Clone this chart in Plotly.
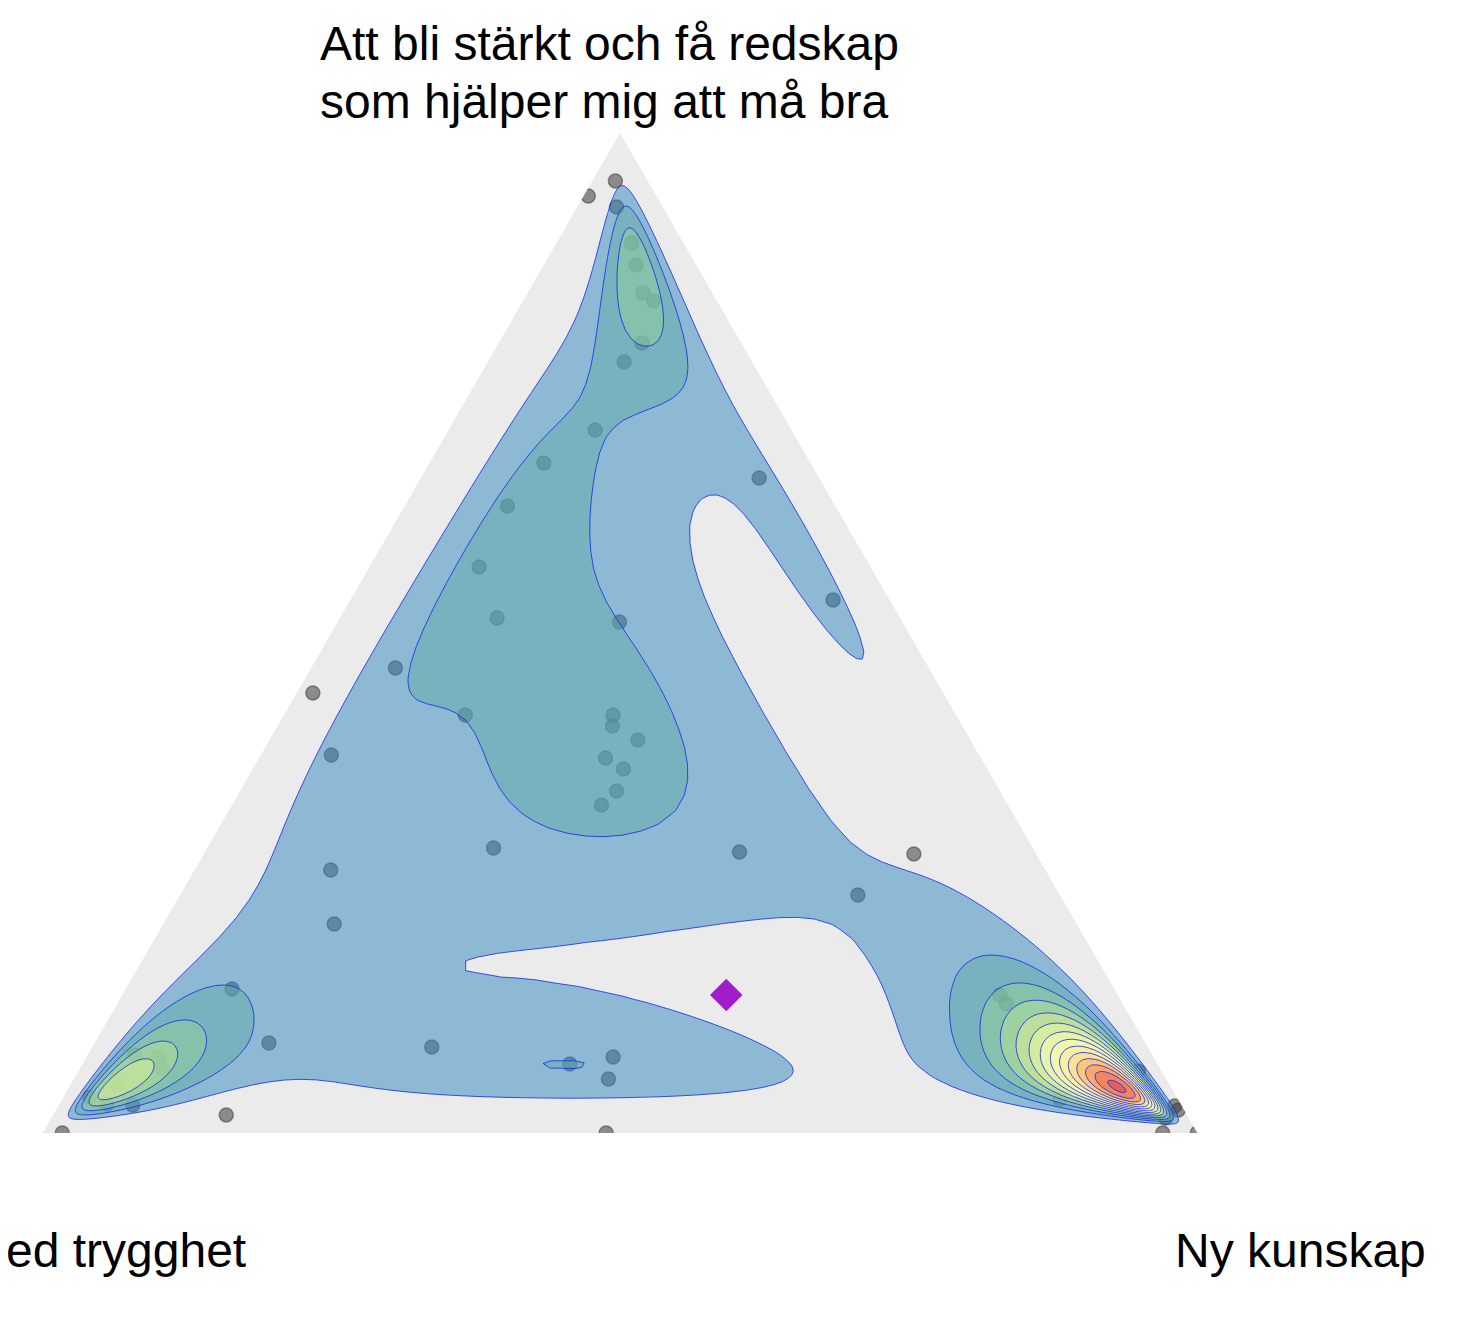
import numpy as np
import plotly.graph_objects as go

# ---------------- data (shares: top / left / right, and counts) ----------------
# visible responses first, then responses hidden under the dense clusters
TOP = [0.952, 0.937, 0.926, 0.832, 0.790, 0.771, 0.703, 0.670, 0.627, 0.566,
       0.515, 0.465, 0.440, 0.511, 0.655, 0.533, 0.418, 0.378, 0.418, 0.407,
       0.393, 0.375, 0.364, 0.342, 0.328, 0.285, 0.281, 0.279, 0.238, 0.263,
       0.209, 0.090, 0.086, 0.069, 0.076, 0.054, 0.018, 0.000, 0.000, 0.027,
       0.023, 0.000, 0.000, 0.129, 0.076, 0.028,
       0.046, 0.035, 0.061, 0.075, 0.028, 0.062, 0.015, 0.138, 0.034,
       0.048, 0.036, 0.064, 0.078, 0.029, 0.144,
       0.868, 0.840, 0.890]
LEFT = [0.028, 0.059, 0.040, 0.055, 0.086, 0.111, 0.170, 0.231, 0.284, 0.339,
        0.349, 0.462, 0.546, 0.245, 0.052, 0.049, 0.425, 0.561, 0.297, 0.303,
        0.288, 0.325, 0.315, 0.332, 0.352, 0.467, 0.256, 0.106, 0.175, 0.619,
        0.643, 0.759, 0.620, 0.509, 0.468, 0.483, 0.832, 0.983, 0.512, 0.006,
        0.005, 0.030, 0.000, 0.101, 0.862, 0.908,
        0.046, 0.026, 0.080, 0.046, 0.046, 0.020, 0.020, 0.102, 0.102,
        0.911, 0.941, 0.864, 0.881, 0.930, 0.764,
        0.052, 0.060, 0.045]
RIGHT = [0.020, 0.004, 0.034, 0.113, 0.124, 0.118, 0.127, 0.099, 0.089, 0.095,
         0.136, 0.073, 0.014, 0.244, 0.293, 0.418, 0.157, 0.061, 0.285, 0.290,
         0.319, 0.300, 0.321, 0.326, 0.320, 0.248, 0.463, 0.615, 0.587, 0.118,
         0.148, 0.151, 0.294, 0.422, 0.456, 0.463, 0.150, 0.017, 0.488, 0.967,
         0.972, 0.970, 1.000, 0.770, 0.062, 0.064,
         0.908, 0.939, 0.859, 0.879, 0.926, 0.918, 0.965, 0.760, 0.864,
         0.041, 0.023, 0.072, 0.041, 0.041, 0.092,
         0.080, 0.100, 0.065]
COUNT = [1, 1, 1, 2, 1, 1, 2, 2, 2, 2,
         1, 2, 1, 1, 2, 3, 1, 2, 1, 1,
         1, 1, 1, 1, 1, 1, 1, 1, 1, 1,
         1, 2, 2, 2, 2, 3, 1, 1, 1, 1,
         1, 1, 1, 1, 1, 1,
         36, 7, 7, 7, 7, 2, 2, 2, 2,
         14, 3, 3, 3, 3, 2,
         8, 2, 2]

MEAN_TOP = [0.138]
MEAN_LEFT = [0.339]
MEAN_RIGHT = [0.523]

TITLE_TOP = ["Att bli stärkt och få redskap", "som hjälper mig att må bra"]
TITLE_LEFT = "ed trygghet"
TITLE_RIGHT = "Ny kunskap"

PALETTE = ['#3288BD', '#99D594', '#E6F598', '#FFFFBF', '#FEE08B', '#FC8D59', '#D53E4F']
FILL_ALPHA = 0.5
LINE_COLOR = 'rgba(20,40,235,0.8)'
BANDWIDTH = (0.45, 0.45)      # kernel sd in ilr space
N_BINS = 14.3                 # contour bins over the density range

W, H = 1470, 1332
GRID_N = 200

# ---------------- helpers ----------------
S2, S6 = np.sqrt(2.0), np.sqrt(6.0)


def ilr(a, b, c):
    la, lb, lc = np.log(a), np.log(b), np.log(c)
    return (lc - lb) / S2, (2 * la - lb - lc) / S6


def ilr_inv(u, v):
    la = v * S6 / 3.0
    lc = (-la + S2 * u) / 2.0
    lb = (-la - S2 * u) / 2.0
    m = np.maximum(np.maximum(la, lb), lc)
    ea, eb, ec = np.exp(la - m), np.exp(lb - m), np.exp(lc - m)
    s = ea + eb + ec
    return ea / s, eb / s, ec / s


def contour_loops(gx, gy, Z, L):
    ins = Z > L
    c0 = ins[:-1, :-1]; c1 = ins[1:, :-1]; c2 = ins[1:, 1:]; c3 = ins[:-1, 1:]
    idx = c0.astype(int) + 2 * c1 + 4 * c2 + 8 * c3
    cells = np.argwhere((idx > 0) & (idx < 15))
    nxt = {}
    for i, j in cells:
        cs = [ins[i, j], ins[i + 1, j], ins[i + 1, j + 1], ins[i, j + 1]]
        keys = [('h', i, j), ('v', i + 1, j), ('h', i, j + 1), ('v', i, j)]
        cr = [(keys[k], cs[k]) for k in range(4) if cs[k] != cs[(k + 1) % 4]]
        if len(cr) == 2:
            if cr[0][1]:
                nxt[cr[0][0]] = cr[1][0]
            else:
                nxt[cr[1][0]] = cr[0][0]
        else:
            center = (Z[i, j] + Z[i + 1, j] + Z[i + 1, j + 1] + Z[i, j + 1]) / 4 > L
            for p in range(4):
                if cr[p][1]:
                    q = (p + 1) % 4 if center else (p - 1) % 4
                    nxt[cr[p][0]] = cr[q][0]

    def pt(key):
        t, i, j = key
        if t == 'h':
            z0, z1 = Z[i, j], Z[i + 1, j]
            f = (L - z0) / (z1 - z0)
            return gx[i] + f * (gx[i + 1] - gx[i]), gy[j]
        z0, z1 = Z[i, j], Z[i, j + 1]
        f = (L - z0) / (z1 - z0)
        return gx[i], gy[j] + f * (gy[j + 1] - gy[j])

    loops = []
    while nxt:
        k0, k = nxt.popitem()
        loop = [pt(k0)]
        ok = True
        while k != k0:
            loop.append(pt(k))
            if k not in nxt:
                ok = False
                break
            k = nxt.pop(k)
        loop.append(pt(k0))
        if ok:
            loops.append(np.array(loop))
    return loops


def hex2rgb(h):
    h = h.lstrip('#')
    return np.array([int(h[i:i + 2], 16) for i in (0, 2, 4)], float)


def ramp(t):
    cols = [hex2rgb(c) for c in PALETTE]
    t = min(max(t, 0.0), 1.0) * (len(cols) - 1)
    i = min(int(np.floor(t)), len(cols) - 2)
    f = t - i
    return cols[i] * (1 - f) + cols[i + 1] * f


# ---------------- density in ilr space ----------------
A = np.array(TOP, float); B = np.array(LEFT, float); C = np.array(RIGHT, float)
N = np.array(COUNT, int)
keep = (A > 0) & (B > 0) & (C > 0)
u, v = ilr(A[keep], B[keep], C[keep])
U = np.repeat(u, N[keep]); V = np.repeat(v, N[keep])
n = len(U)
hu, hv = BANDWIDTH

ur = U.max() - U.min(); vr = V.max() - V.min()
gx = np.linspace(U.min() - 0.5 * ur, U.max() + 0.5 * ur, GRID_N)
gy = np.linspace(V.min() - 0.5 * vr, V.max() + 0.5 * vr, GRID_N)
Ku = np.exp(-0.5 * ((gx[:, None] - U[None, :]) / hu) ** 2) / (np.sqrt(2 * np.pi) * hu)
Kv = np.exp(-0.5 * ((gy[:, None] - V[None, :]) / hv) ** 2) / (np.sqrt(2 * np.pi) * hv)
Z = Ku @ Kv.T / n

dx, dy = gx[1] - gx[0], gy[1] - gy[0]
gxp = np.concatenate([[gx[0] - dx], gx, [gx[-1] + dx]])
gyp = np.concatenate([[gy[0] - dy], gy, [gy[-1] + dy]])
Zp = np.zeros((GRID_N + 2, GRID_N + 2))
Zp[1:-1, 1:-1] = Z

step = Z.max() / N_BINS
levels = [step * k for k in range(1, int(N_BINS) + 1)]
lo_lv, hi_lv = levels[0], levels[-1]

fig = go.Figure()

# individual responses
fig.add_trace(go.Scatterternary(
    a=TOP, b=LEFT, c=RIGHT, mode='markers',
    marker=dict(size=14, color='rgba(60,60,60,0.55)',
                line=dict(color='rgba(60,60,60,0.55)', width=1.5)),
    hoverinfo='skip', showlegend=False, cliponaxis=True))

# filled density contours
for L in levels:
    loops = contour_loops(gxp, gyp, Zp, L)
    aa, bb, cc = [], [], []
    for lp in loops:
        a_, b_, c_ = ilr_inv(lp[:, 0], lp[:, 1])
        aa += list(a_) + [None]; bb += list(b_) + [None]; cc += list(c_) + [None]
    t = (L - lo_lv) / (hi_lv - lo_lv) if hi_lv > lo_lv else 0
    r, g, b_ = ramp(t)
    fig.add_trace(go.Scatterternary(
        a=aa, b=bb, c=cc, mode='lines', fill='toself',
        fillcolor=f'rgba({r:.0f},{g:.0f},{b_:.0f},{FILL_ALPHA})',
        line=dict(color=LINE_COLOR, width=1),
        hoverinfo='skip', showlegend=False))

# mean
fig.add_trace(go.Scatterternary(
    a=MEAN_TOP, b=MEAN_LEFT, c=MEAN_RIGHT, mode='markers',
    marker=dict(symbol='diamond', size=25, color='#A21CCB', line=dict(width=0)),
    hoverinfo='skip', showlegend=False))

axis = dict(showgrid=False, showline=False, showticklabels=False, ticks='',
            title=dict(text=''))
font = dict(family='Liberation Sans, Arial, sans-serif', size=48, color='black')
OFF = 8  # page offset of the figure inside the browser window
fig.update_layout(
    template='none', width=W, height=H,
    margin=dict(l=0, r=0, t=0, b=0), paper_bgcolor='white',
    font=font, showlegend=False,
    ternary=dict(sum=1, bgcolor='#EBEBEB',
                 domain=dict(x=[(40 - OFF) / W, (1200 - OFF) / W],
                             y=[(H - 1133 + OFF) / H, (H - 133 + OFF) / H]),
                 aaxis=axis, baxis=axis, caxis=axis),
    annotations=[
        dict(text=TITLE_TOP[0], x=(318 - OFF) / W, y=1 - (43.4 - OFF) / H,
             xref='paper', yref='paper', xanchor='left', yanchor='middle',
             showarrow=False, font=font),
        dict(text=TITLE_TOP[1], x=(318 - OFF) / W, y=1 - (101.4 - OFF) / H,
             xref='paper', yref='paper', xanchor='left', yanchor='middle',
             showarrow=False, font=font),
        dict(text=TITLE_LEFT, x=(248 - OFF) / W, y=1 - (1250 - OFF) / H,
             xref='paper', yref='paper', xanchor='right', yanchor='middle',
             showarrow=False, font=font),
        dict(text=TITLE_RIGHT, x=(1300 - OFF) / W, y=1 - (1250 - OFF) / H,
             xref='paper', yref='paper', xanchor='center', yanchor='middle',
             showarrow=False, font=font),
    ])

fig.write_html("out.html")
